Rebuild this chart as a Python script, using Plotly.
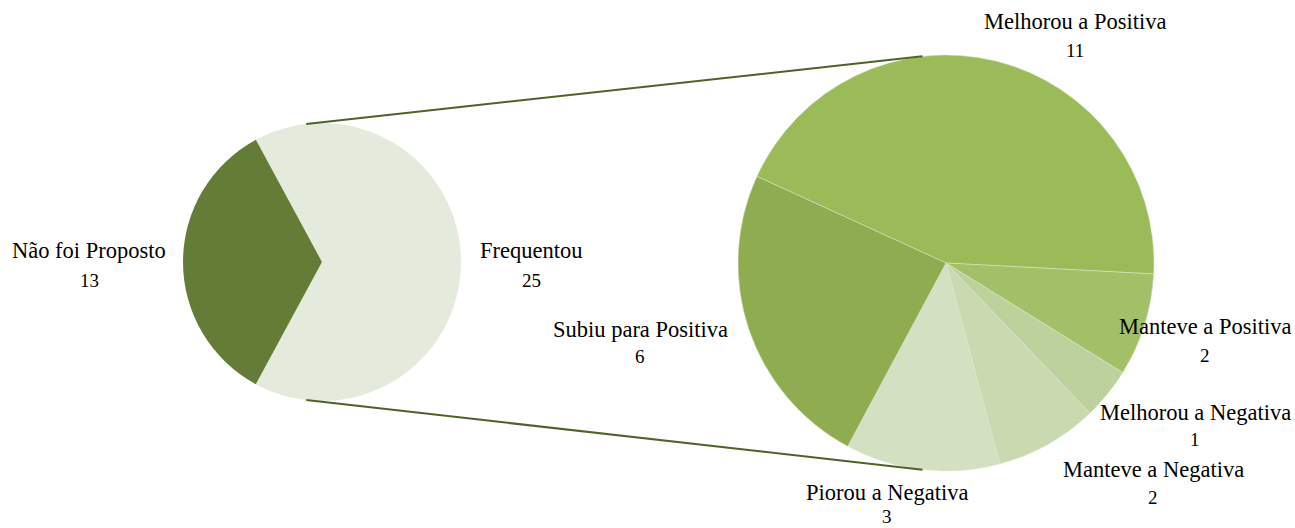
import math
import plotly.graph_objects as go

# ---- data ----
main_labels = ["Frequentou", "Não foi Proposto"]
main_values = [25, 13]
main_colors = ["#E4EBDC", "#657C37"]

sub_labels = ["Melhorou a Positiva", "Manteve a Positiva", "Melhorou a Negativa",
              "Manteve a Negativa", "Piorou a Negativa", "Subiu para Positiva"]
sub_values = [11, 2, 1, 2, 3, 6]
sub_colors = ["#9BBB59", "#A2C067", "#BCD19C", "#C9D9B0", "#D3E0C1", "#8FAC50"]

# ---- layout geometry (pixels) ----
W, H = 1295, 528
FONT = "Liberation Serif"
L_CX, L_CY, L_R = 322, 262, 139
R_CX, R_CY, R_R = 946, 263, 208


def dom(cx, cy, r):
    return dict(x=[(cx - r) / W, (cx + r) / W],
                y=[1 - (cy + r) / H, 1 - (cy - r) / H])


fig = go.Figure()
fig.add_trace(go.Pie(
    labels=main_labels, values=main_values, sort=False, direction="clockwise",
    rotation=-28.4, marker=dict(colors=main_colors, line=dict(width=0)),
    textinfo="none", hoverinfo="label+value", domain=dom(L_CX, L_CY, L_R),
    showlegend=False))
fig.add_trace(go.Pie(
    labels=sub_labels, values=sub_values, sort=False, direction="clockwise",
    rotation=-65.4, marker=dict(colors=sub_colors, line=dict(width=0.5, color="#DDE6D0")),
    textinfo="none", hoverinfo="label+value", domain=dom(R_CX, R_CY, R_R),
    showlegend=False))

# connector lines between the pies
for sgn in (1, -1):
    a = math.radians(96.5)
    x0 = L_CX + L_R * math.cos(a)
    y0 = L_CY - sgn * L_R * math.sin(a)
    x1 = R_CX + R_R * math.cos(a)
    y1 = R_CY - sgn * R_R * math.sin(a)
    fig.add_shape(type="line", xref="paper", yref="paper",
                  x0=x0 / W, y0=1 - y0 / H, x1=x1 / W, y1=1 - y1 / H,
                  line=dict(color="#4F6228", width=2))

# label positions (pixel centres of name line, and gap to value line)
label_pos = {
    "Não foi Proposto": (89, 251, 29),
    "Frequentou": (531, 251, 29),
    "Melhorou a Positiva": (1075, 22, 28),
    "Manteve a Positiva": (1205, 326, 29),
    "Melhorou a Negativa": (1195, 412, 27),
    "Manteve a Negativa": (1153, 469, 28),
    "Piorou a Negativa": (887, 492, 24),
    "Subiu para Positiva": (640, 329, 27),
}
all_labels = main_labels + sub_labels
all_values = main_values + sub_values
for lab, val in zip(all_labels, all_values):
    px, py, gap = label_pos[lab]
    fig.add_annotation(x=px / W, y=1 - py / H, xref="paper", yref="paper",
                       text=lab, showarrow=False, xanchor="center", yanchor="middle",
                       font=dict(family=FONT, size=22.5, color="#000000"))
    fig.add_annotation(x=px / W, y=1 - (py + gap) / H, xref="paper", yref="paper",
                       text=str(val), showarrow=False, xanchor="center", yanchor="middle",
                       font=dict(family=FONT, size=19, color="#000000"))

fig.update_layout(width=W, height=H, margin=dict(l=0, r=0, t=0, b=0),
                  paper_bgcolor="white", plot_bgcolor="white")
fig.write_html("out.html", config={"displayModeBar": False},
               post_script="document.body.style.margin='0px';document.body.style.overflow='hidden';")
